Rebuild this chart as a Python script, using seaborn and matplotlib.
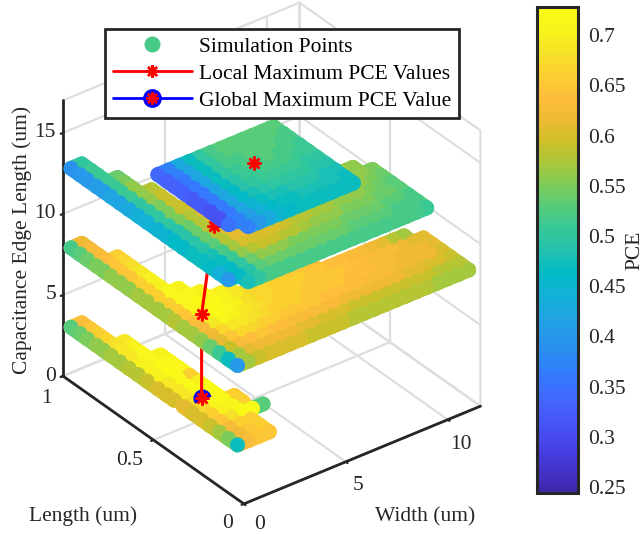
import matplotlib
matplotlib.use("Agg")
import matplotlib.pyplot as plt
from matplotlib.lines import Line2D
from matplotlib.legend_handler import HandlerTuple
from matplotlib.cm import ScalarMappable
from matplotlib.colors import Normalize
from mpl_toolkits.mplot3d import proj3d
from mpl_toolkits.mplot3d.art3d import Line3DCollection
import numpy as np
import pandas as pd
import seaborn as sns

# parula anchors
PARULA = [(0.2422,0.1504,0.6603),(0.2647,0.1978,0.7952),(0.2783,0.2559,0.8991),(0.2810,0.3228,0.9579),
          (0.2699,0.3892,0.9906),(0.2206,0.4603,0.9973),(0.1786,0.5289,0.9682),(0.1540,0.5902,0.9218),
          (0.1248,0.6459,0.8883),(0.0689,0.6948,0.8394),(0.0067,0.7312,0.7660),(0.1408,0.7584,0.6842),
          (0.2161,0.7843,0.5923),(0.3406,0.8008,0.4789),(0.5044,0.7993,0.3480),(0.6720,0.7793,0.2227),
          (0.8203,0.7498,0.1535),(0.9393,0.7288,0.2100),(0.9956,0.7434,0.2371),(0.9892,0.8136,0.1885),
          (0.9610,0.8890,0.1537),(0.9691,0.9606,0.1064),(0.9769,0.9839,0.0805)]

WIDTHS = [0.4,0.92,1.43,1.95,2.46,2.98,3.49,4.0,4.52,5.03,5.55,6.07,6.58,7.1,7.61,8.13,8.64,9.16,9.67,10.19,10.7,11.22,11.73]
LENGTHS = [0.08,0.13,0.18,0.23,0.28,0.33,0.38,0.43,0.47,0.52,0.58,0.63,0.68,0.73,0.78,0.82,0.86,0.91,0.95,1.0]
LEVELS = [2.8, 7.7, 12.6, 16.0]

# PCE in percent, one row per length, one column per width, 0 = no simulation point
PCE_LOW = [
    [47,63,65,65],
    [55,62,65,66],
    [57,63,66,66],
    [59,65,68,72,72,53],
    [60,66,70,71,66],
    [60,67,71,72,66],
    [61,68,72,72],
    [60,69,72,72],
    [60,69,72,70],
    [60,69,72,66],
    [59,70,72,71],
    [58,70,72,71],
    [58,70,71,70],
    [57,69,71],
    [57,69,70],
    [56,68,69],
    [56,67],
    [55,66],
    [54,65],
    [53,64],
]
PCE_MID = [
    [40,57,59,60,60,60,60,59,59,59,59,58,58,58,58,58,58,58,58,57,57,57,57],
    [47,57,61,62,62,62,62,61,61,60,60,60,59,59,59,59,59,59,59,59,58,58,58],
    [51,59,63,64,65,64,64,63,63,63,63,63,62,62,62,62,62,62,61,61,60,60,59],
    [54,61,65,67,67,66,66,65,65,65,65,64,64,64,64,63,63,63,62,62,62,62,60],
    [56,62,67,69,69,68,67,66,66,66,65,65,65,65,64,64,64,63,63,62,62,62,61],
    [57,63,69,71,70,69,68,67,66,66,66,65,65,65,65,64,64,63,63,63,62,61,61],
    [57,64,70,72,71,70,68,67,67,66,66,66,65,65,64,64,63,63,62,61,58,57],
    [58,65,71,72,72,70,69,67,67,66,66,65,65,64],
    [57,66,71,72,71,70,69],
    [57,66,71,71,70],
    [57,66,71,70],
    [57,66,70],
    [56,66,70],
    [56,65,69],
    [56,65,68],
    [55,65,67],
    [55,64,66],
    [54,63],
    [53,63],
    [52,62],
]
PCE_HIGH = [
    [0,48,50,52,52,52,52,52,52,52,52,52,52,52,52,52,52,52,51],
    [40,46,49,53,54,54,54,54,54,54,54,54,53,53,53,53,52,52,52],
    [44,46,50,54,56,56,56,55,55,55,55,55,54,54,54,54,53,53,52],
    [46,47,51,56,58,59,59,58,58,57,56,56,56,55,55,55,54,54,53],
    [47,48,52,57,60,60,60,60,59,58,58,57,57,56,56,56,55,54,53],
    [47,49,53,58,61,62,61,60,60,59,58,58,58,57,57,56,56,55,54],
    [46,49,54,58,61,62,62,61,60,59,59,58,58,58,57,57,56,56,55],
    [46,49,54,58,61,62,62,61,60,60,59,59,58,58,57,57,57,56],
    [45,49,54,58,61,62,61,61,60],
    [45,50,55,58,61,61],
    [44,50,55,59,60],
    [44,50,55,59],
    [43,50,56,59],
    [42,51,56,58],
    [42,51,56],
    [41,51,55],
    [41,51,54],
    [40,51],
    [40,51],
    [39,50],
]
PCE_TOP = [
    [0,37,40,43,45,46,47,47,47,47,47,47],
    [35,37,41,44,46,47,47,48,48,48,48,47],
    [31,36,42,45,47,48,48,49,49,49,48,48],
    [31,36,42,46,48,49,50,50,50,50,49,49],
    [32,36,42,46,49,50,51,51,51,51,50,50],
    [32,36,42,47,49,51,51,52,52,52,51,51],
    [33,36,42,47,50,51,52,52,53,52,52,51],
    [33,36,42,47,50,52,52,53,53,53,52,52],
    [33,37,42,47,50,52,53,53,53,53,53,52],
    [34,37,43,47,50,52,53,53,53,53,53,53],
]

# local maxima, lowest level first
MAX_WIDTH = [1.36, 1.52, 2.27, 3.88]
MAX_LENGTH = [0.387, 0.405, 0.423, 0.379]

X_TICKS = [0, 5, 10]
X_LABELS = ["0", "5", "10"]
Y_TICKS = [0, 0.5, 1]
Y_LABELS = ["0", "0.5", "1"]
Z_TICKS = [0, 5, 10, 15]
Z_LABELS = ["0", "5", "10", "15"]
CB_TICKS = [0.25, 0.3, 0.35, 0.4, 0.45, 0.5, 0.55, 0.6, 0.65, 0.7]
CB_LABELS = ["0.25", "0.3", "0.35", "0.4", "0.45", "0.5", "0.55", "0.6", "0.65", "0.7"]
VMIN, VMAX = 0.244, 0.728


def plate_frame(table, level):
    rows = []
    for length, row in zip(LENGTHS, table):
        for width, pce in zip(WIDTHS, row):
            if pce:
                rows.append((width, length, level, pce / 100))
    frame = pd.DataFrame(rows, columns=["width", "length", "edge", "pce"])
    # far from the camera = large value
    frame["depth"] = frame["width"] + 15.2 * frame["length"]
    return frame


sns.set_theme(style="white")
plt.rcParams["font.family"] = ["Liberation Serif", "DejaVu Serif"]
DARK = "#262626"
GRID = "#dedede"
FS = 15.5
W, H = 643, 534
cmap = sns.blend_palette(PARULA, n_colors=64, as_cmap=True)
norm = Normalize(VMIN, VMAX)

fig = plt.figure(figsize=(W / 100, H / 100), dpi=100, facecolor="white")
side = 534
ax = fig.add_axes([(264.5 - side / 2) / W, (H - 260.5 - side / 2) / H, side / W, side / H], projection="3d")
ax.set_proj_type("ortho")
ax.view_init(elev=32.7, azim=-127.4)
ax.set_box_aspect((1, 1, 1.1), zoom=0.97)
ax.computed_zorder = False
ax.set_xlim(0, 11.6, view_margin=0)
ax.set_ylim(0, 1, view_margin=0)
ax.set_zlim(0, 17, view_margin=0)
ax.patch.set_alpha(0)

ax.set_xticks(X_TICKS)
ax.set_yticks(Y_TICKS)
ax.set_zticks(Z_TICKS)
ax.set_xticklabels([])
ax.set_yticklabels([])
ax.set_zticklabels([])
for axis in (ax.xaxis, ax.yaxis, ax.zaxis):
    axis.set_pane_color((1, 1, 1, 1))
    axis.pane.set_edgecolor(GRID)
    axis.pane.set_linewidth(1.6)
    axis.line.set_color(DARK)
    axis.line.set_linewidth(2)
    axis._axinfo["grid"].update(color=GRID, linewidth=1.6)
    axis._axinfo["tick"].update(inward_factor=0.12, outward_factor=0.0, linewidth={True: 1.6, False: 1.0}, color=DARK)
ax.grid(True)


def tick_text(text, x, y, z, dx, dy, ha="center"):
    # mplot3d resets tick label transforms, so the labels sit at a pixel offset from the tick
    px, py, _ = proj3d.proj_transform(x, y, z, ax.get_proj())
    ax.annotate(text, xy=(px, py), xycoords="data", xytext=(dx, -dy), textcoords="offset pixels",
                ha=ha, va="center", fontsize=FS, color=DARK, zorder=60)


for tick, label, dx, dy in zip(X_TICKS, X_LABELS, [16, 12, 13], [21, 24, 25]):
    tick_text(label, tick, 0, 0, dx, dy)
for tick, label, dx, dy in zip(Y_TICKS, Y_LABELS, [-16, -24, -16], [20, 21, 22]):
    tick_text(label, 0, tick, 0, dx, dy)
for tick, label in zip(Z_TICKS, Z_LABELS):
    tick_text(label, 0, 1, tick, -7, 0, ha="right")


def plate(frame, zorder):
    # round ribbons to the nearer neighbours close the gaps between the dots
    have = set(zip(frame["width"], frame["length"]))
    segs, vals = [], []
    for r in frame.sort_values("depth", ascending=False).itertuples():
        i, j = WIDTHS.index(r.width), LENGTHS.index(r.length)
        if i > 0 and (WIDTHS[i - 1], r.length) in have:
            segs.append([(r.width, r.length, r.edge), (WIDTHS[i - 1], r.length, r.edge)])
            vals.append(r.pce)
        if j > 0 and (r.width, LENGTHS[j - 1]) in have:
            segs.append([(r.width, r.length, r.edge), (r.width, LENGTHS[j - 1], r.edge)])
            vals.append(r.pce)
    if segs:
        ribbon = Line3DCollection(segs, colors=cmap(norm(np.array(vals))), linewidths=10.8, capstyle="round", zorder=zorder)
        ax.add_collection3d(ribbon, autolim=False)
    ax.scatter(frame["width"], frame["length"], frame["edge"], c=frame["pce"], cmap=cmap, norm=norm,
               s=117, linewidths=0, depthshade=False, zorder=zorder + 0.5, alpha=1)


def segment(i, zorder):
    ax.plot(MAX_WIDTH[i:i + 2], MAX_LENGTH[i:i + 2], LEVELS[i:i + 2], color="red", lw=2.2, zorder=zorder)


def star(i, zorder):
    ax.plot(MAX_WIDTH[i:i + 1], MAX_LENGTH[i:i + 1], LEVELS[i:i + 1], ls="none", marker=(8, 2, 0), ms=10,
            mew=1.8, color="red", zorder=zorder)


low = plate_frame(PCE_LOW, LEVELS[0])
behind = low["depth"] >= MAX_WIDTH[0] + 15.2 * MAX_LENGTH[0] - 0.75
plate(low[behind], 10)
ax.plot(MAX_WIDTH[:1], MAX_LENGTH[:1], LEVELS[:1], ls="none", marker="o", ms=12, mfc="#0000ff", mec="#0000ff", zorder=11)
plate(low[~behind], 12)
star(0, 13)
segment(0, 14)
plate(plate_frame(PCE_MID, LEVELS[1]), 20)
star(1, 21)
segment(1, 22)
plate(plate_frame(PCE_HIGH, LEVELS[2]), 30)
star(2, 31)
segment(2, 32)
plate(plate_frame(PCE_TOP, LEVELS[3]), 40)
star(3, 41)

fig.text(22 / W, 1 - 240 / H, "Capacitance Edge Length (um)", rotation=90, ha="center", va="center", fontsize=FS, color=DARK)
fig.text(83 / W, 1 - 516 / H, "Length (um)", ha="center", va="center", fontsize=FS, color=DARK)
fig.text(425 / W, 1 - 517 / H, "Width (um)", ha="center", va="center", fontsize=FS, color=DARK)

h_sim = Line2D([], [], ls="none", marker="o", ms=11.5, color=cmap(norm(0.52)), mew=0)
h_loc = Line2D([], [], color="red", lw=2, marker=(8, 2, 0), ms=9, mew=1.8)
h_glob = Line2D([], [], color="#0000ff", lw=2, marker="o", ms=12.5, mfc="#0000ff", mec="#0000ff")
h_glob_star = Line2D([], [], ls="none", marker=(8, 2, 0), ms=9, mew=1.8, color="red")
leg = fig.legend([h_sim, h_loc, (h_glob, h_glob_star)],
                 ["Simulation Points", "Local Maximum PCE Values", "Global Maximum PCE Value"],
                 handler_map={tuple: HandlerTuple(ndivide=1, pad=0)},
                 loc="upper left", bbox_to_anchor=(105 / W, 1 - 29 / H), borderaxespad=0, fontsize=FS,
                 fancybox=False, framealpha=1, edgecolor=DARK, handlelength=3.7, labelspacing=0.33,
                 borderpad=0.35, handletextpad=0.32)
leg.get_frame().set_linewidth(2)
leg.set_zorder(50)
for t in leg.get_texts():
    t.set_color("black")

cax = fig.add_axes([537 / W, 1 - 493 / H, 41 / W, 486 / H])
cb = fig.colorbar(ScalarMappable(norm=norm, cmap=cmap), cax=cax, ticks=CB_TICKS)
cb.ax.set_yticklabels(CB_LABELS)
cb.ax.tick_params(direction="in", length=5, width=1.6, color=DARK, labelsize=FS, labelcolor=DARK, pad=7, right=True)
cb.outline.set_edgecolor(DARK)
cb.outline.set_linewidth(2.2)
cb.set_label("PCE", fontsize=FS, color=DARK, labelpad=0)

fig.savefig("out.png", dpi=100)
